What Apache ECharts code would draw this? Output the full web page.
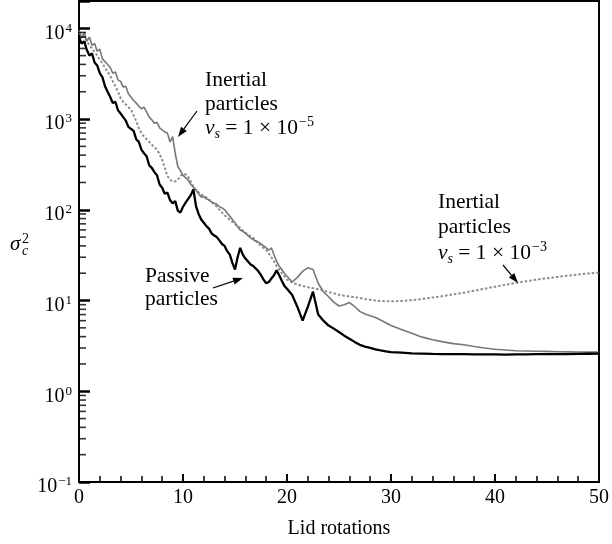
<!DOCTYPE html>
<html>
<head>
<meta charset="utf-8">
<script src="https://cdn.jsdelivr.net/npm/echarts@6/dist/echarts.min.js"></script>
<style>html,body{margin:0;padding:0;background:#fff}#c{width:612px;height:544px}</style>
</head>
<body>
<div id="c"></div>
<script>
// Lid rotations (sample positions)
const rotations = [
 0,0.25,0.5,0.75,1,1.25,1.5,1.75,2,2.25,
 2.5,2.75,3,3.25,3.5,3.75,4,4.25,4.5,4.75,
 5,5.25,5.5,5.75,6,6.25,6.5,6.75,7,7.25,
 7.5,7.75,8,8.25,8.5,8.75,9,9.25,9.5,9.75,
 10,10.25,10.5,10.75,11,11.25,11.5,11.75,12,12.25,
 12.5,12.75,13,13.25,13.5,13.75,14,14.25,14.5,14.75,
 15,15.25,15.5,15.75,16,16.25,16.5,16.75,17,17.25,
 17.5,17.75,18,18.25,18.5,18.75,19,19.25,19.5,19.75,
 20,
 20.5,21,21.5,22,22.5,23,23.5,24,24.5,25,25.5,26,26.5,27,27.5,28,28.5,29,29.5,30,
 31,32,33,34,35,36,37,38,39,40,41,42,43,44,45,46,47,48,49,50
];
// Passive particles (black)
const passive = [
 8000,6800,7200,5800,5000,5300,4200,3900,3200,2900,
 2300,2000,1750,1500,1550,1250,1150,1050,960,820,
 780,740,600,560,460,420,390,310,290,260,
 240,190,175,150,155,128,118,125,98,93,
 108,120,132,145,168,110,90,78,72,66,
 62,55,52,50,46,42,40,35,32,26,
 22,30,38,32,29,27,25,24,22.5,21,
 19,17,15.5,16,17.5,19,21.5,19,16.5,14.5,
 13.5,
 11.5,8.5,6,8.5,12.5,7,6,5.3,4.9,4.5,4.1,3.8,3.5,3.25,3.1,3.0,2.9,2.82,2.75,2.7,
 2.66,2.62,2.6,2.58,2.57,2.56,2.56,2.55,2.55,2.55,2.54,2.55,2.55,2.56,2.56,2.57,2.57,2.58,2.59,2.6
];
// Inertial particles v_s = 1e-5 (gray solid)
const inertial5 = [
 9500,7800,9000,7200,8000,6500,6800,5600,5900,4600,
 4300,4000,3700,3200,3300,2700,2600,2250,2300,1900,
 1750,1600,1500,1380,1300,1350,1200,1050,980,900,
 920,800,760,720,700,560,640,420,300,270,
 240,225,212,190,178,165,150,138,140,132,
 128,122,118,115,108,105,100,92,85,78,
 72,65,60,58,55,52,49,47,45,44,
 42,40,38,36,38,32,27,24,22,20,
 18.5,
 16,18,21,23,22,15.5,12.5,11,9.6,8.7,9,9.5,8.6,7.6,7.1,6.8,6.5,6.1,5.7,5.3,
 4.8,4.35,3.95,3.7,3.5,3.35,3.25,3.12,3.0,2.9,2.85,2.8,2.78,2.76,2.75,2.73,2.72,2.71,2.7,2.7
];
// Inertial particles v_s = 1e-3 (gray dotted)
const inertial3 = [
 9000,8500,8000,7200,6500,6000,5500,5000,4500,4100,
 3700,3300,3000,2600,2300,2000,1700,1550,1450,1350,
 1280,1100,950,800,700,640,600,560,520,490,
 460,410,355,290,235,215,205,205,215,235,
 250,245,230,205,180,165,155,148,142,136,
 130,122,115,108,100,93,87,82,78,74,
 70,66,63,59,56,53,51,49,46,43,
 40,38,36,33,30,27,24,22,20,18.5,
 17,
 15.8,15,14.5,14,13.7,13.3,12.9,12.4,12,11.6,11.3,11.1,10.9,10.7,10.4,10.2,10,9.9,9.8,9.8,
 9.9,10.1,10.4,10.8,11.2,11.7,12.2,12.8,13.5,14.2,14.9,15.6,16.3,17,17.6,18.2,18.8,19.4,19.9,20.3
];
// y-axis minor tick values
const yMinorTicks = [
 0.2,0.3,0.4,0.5,0.6,0.7,0.8,0.9,
 2,3,4,5,6,7,8,9,
 20,30,40,50,60,70,80,90,
 200,300,400,500,600,700,800,900,
 2000,3000,4000,5000,6000,7000,8000,9000
];
const xTicks = [0,10,20,30,40,50];

const FONT = '"Liberation Serif","Times New Roman",serif';
const pairs = (ys) => rotations.map((x, i) => [x, ys[i]]);

function arrow(x1, y1, x2, y2) {
  const dx = x2 - x1, dy = y2 - y1, L = Math.hypot(dx, dy);
  const ux = dx / L, uy = dy / L, hl = 10, hw = 3.5;
  const bx = x2 - ux * hl, by = y2 - uy * hl;
  return [
    {type:'line', shape:{x1:x1, y1:y1, x2:bx, y2:by}, style:{stroke:'#000', lineWidth:1.2}, z:100},
    {type:'polygon', shape:{points:[[x2,y2],[bx - uy*hw, by + ux*hw],[bx + uy*hw, by - ux*hw]]}, style:{fill:'#000'}, z:100}
  ];
}
const TS = 21.5;
function txt(x, y, text) {
  return {type:'text', x:x, y:y, z:100,
    style:{text:text, fontFamily:FONT, fontSize:TS, fill:'#000', verticalAlign:'middle', align:'left'}};
}
const vsRich = {
  i:{fontFamily:FONT, fontSize:TS, fontStyle:'italic', fill:'#000'},
  sub:{fontFamily:FONT, fontSize:14, fontStyle:'italic', fill:'#000', padding:[12,0,0,0]},
  r:{fontFamily:FONT, fontSize:TS, fill:'#000'},
  sup:{fontFamily:FONT, fontSize:14, fill:'#000', padding:[0,0,12,1]}
};
function vsLabel(x, y, exp) {
  return {type:'text', x:x, y:y, z:100, style:{text:'{i|v}{sub|s}{r| = 1 × 10}{sup|−' + exp + '}', rich:vsRich, verticalAlign:'middle', align:'left', fontFamily:FONT, fontSize:TS, fill:'#000'}};
}

const chart = echarts.init(document.getElementById('c'), null, {renderer:'canvas'});
chart.setOption({
  animation:false,
  backgroundColor:'#fff',
  grid:{left:79, right:12, top:1, bottom:61, show:true, borderColor:'#000', borderWidth:2, backgroundColor:'transparent'},
  xAxis:{
    type:'value', min:0, max:50, interval:10,
    axisLine:{show:true, onZero:false, lineStyle:{color:'#000', width:2}},
    axisTick:{show:true, inside:true, length:8, lineStyle:{color:'#000', width:2}},
    minorTick:{show:true, splitNumber:5, length:6, lineStyle:{color:'#000', width:1.5}},
    splitLine:{show:false},
    axisLabel:{margin:6, fontFamily:FONT, fontSize:20, color:'#000',
      formatter:(v) => xTicks.indexOf(v) >= 0 ? String(v) : ''},
    name:'Lid rotations', nameLocation:'middle', nameGap:37,
    nameTextStyle:{fontFamily:FONT, fontSize:20, color:'#000'}
  },
  yAxis:{
    type:'log', logBase:10, min:0.1, max:20000, splitNumber:6,
    axisLine:{show:true, onZero:false, lineStyle:{color:'#000', width:2}},
    axisTick:{show:true, inside:true, length:11, lineStyle:{color:'#000', width:2.5}},
    splitLine:{show:false},
    axisLabel:{margin:7, color:'#000',
      formatter:function(v){
        const e = Math.log10(v);
        if (Math.abs(e - Math.round(e)) > 1e-6) return '';
        const n = Math.round(e);
        return '{b|10}{s|' + (n < 0 ? '−' + (-n) : n) + '}';
      },
      rich:{
        b:{fontFamily:FONT, fontSize:20, color:'#000', lineHeight:20, padding:[10,0,0,0]},
        s:{fontFamily:FONT, fontSize:13, color:'#000', lineHeight:13, padding:[0,0,0,1]}
      }
    }
  },
  series:[
    {type:'line', name:'Inertial 1e-3', data:pairs(inertial3), showSymbol:false, symbol:'none',
      lineStyle:{color:'#8c8c8c', width:2, type:[2.5,2]}, z:2},
    {type:'line', name:'Inertial 1e-5', data:pairs(inertial5), showSymbol:false, symbol:'none',
      lineStyle:{color:'#777777', width:1.6}, z:3},
    {type:'line', name:'Passive', data:pairs(passive), showSymbol:false, symbol:'none',
      lineStyle:{color:'#000', width:2.3}, z:4},
    {type:'scatter', name:'minor', silent:true, clip:false, z:10,
      data:yMinorTicks.map(v => [0, v]),
      symbol:'rect', symbolSize:[7, 1.6], symbolOffset:[3.5, 0],
      itemStyle:{color:'#000'}
    }
  ],
  graphic:[].concat(
    [
      {type:'text', x:10, y:244, z:100, style:{text:'σ', fontFamily:FONT, fontSize:21, fontStyle:'italic', fill:'#000', verticalAlign:'middle'}},
      {type:'text', x:22, y:251, z:100, style:{text:'c', fontFamily:FONT, fontSize:14, fontStyle:'italic', fill:'#000', verticalAlign:'middle'}},
      {type:'text', x:22, y:239, z:100, style:{text:'2', fontFamily:FONT, fontSize:14, fill:'#000', verticalAlign:'middle'}},
      txt(205, 80.5, 'Inertial'),
      txt(205, 104.5, 'particles'),
      vsLabel(205, 128.5, 5),
      txt(438, 202.5, 'Inertial'),
      txt(438, 227, 'particles'),
      vsLabel(438, 253, 3),
      txt(145, 276, 'Passive'),
      txt(145, 299, 'particles')
    ],
    arrow(197, 111, 178, 137),
    arrow(503, 265, 518, 283),
    arrow(213, 288, 243, 278)
  )
});
</script>
</body>
</html>
